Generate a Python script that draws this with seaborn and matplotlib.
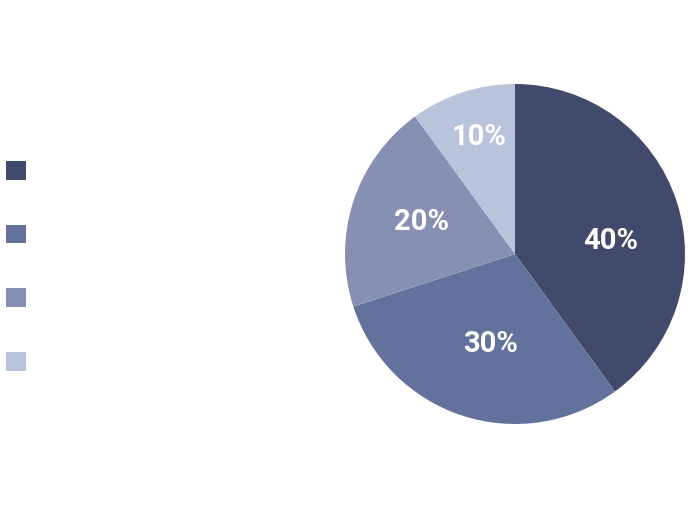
import matplotlib
matplotlib.use("Agg")
import numpy as np
import seaborn as sns
import matplotlib.pyplot as plt
from matplotlib.patches import Patch

# slice data
categories = ["A", "B", "C", "D"]
shares = [40, 30, 20, 10]
colors = ["#414a6b", "#63719d", "#8590b3", "#b9c3dc"]

sns.set_theme(style="white")
plt.rcParams["font.family"] = ["Roboto", "DejaVu Sans"]

fig = plt.figure(figsize=(6.9, 5.12), dpi=100)
# pie area: centre near (515, 254) px, radius ~170 px
ax = fig.add_axes([345 / 690, 88 / 512, 340 / 690, 340 / 512])

wedges, texts, autotexts = ax.pie(
    shares,
    colors=colors,
    startangle=90,
    counterclock=False,
    autopct="%d%%",
    pctdistance=0.57,
    radius=1,
    wedgeprops=dict(linewidth=0, edgecolor="none"),
    textprops=dict(color="white", fontsize=21, fontweight="bold"),
)
ax.set_xlim(-1, 1)
ax.set_ylim(-1, 1)
ax.set_aspect("equal")
ax.axis("off")

# nudge labels a bit (40% sits a little higher, 10% further out)
label_r = [0.57, 0.55, 0.58, 0.72]
label_shift = [-10, 3, -1, -1]
for w, t, r, s in zip(wedges, autotexts, label_r, label_shift):
    ang = np.deg2rad((w.theta1 + w.theta2) / 2 + s)
    t.set_position((r * np.cos(ang), r * np.sin(ang)))

# legend: coloured squares only, no text
handles = [Patch(facecolor=c, edgecolor="none") for c in colors]
fig.legend(
    handles, [""] * len(handles),
    loc="upper left",
    bbox_to_anchor=(-0.001, 1 - 155 / 512),
    frameon=False,
    fontsize=15,
    handlelength=1.0,
    handleheight=1.0,
    handletextpad=0.2,
    labelspacing=2.07,
    borderaxespad=0,
    borderpad=0.3,
)

fig.savefig("out.png", dpi=100)
